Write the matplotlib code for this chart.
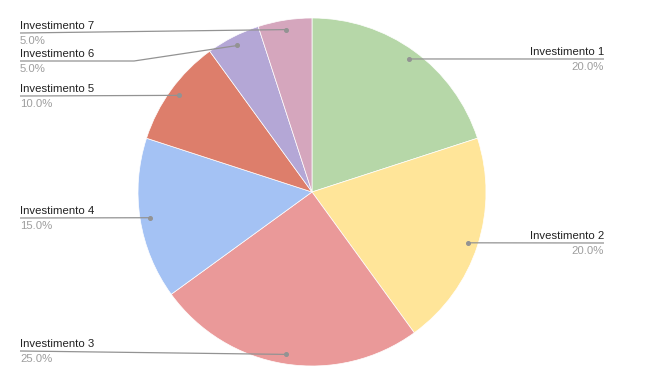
import numpy as np
import matplotlib.pyplot as plt

# Dados
labels = ['Investimento 1', 'Investimento 2', 'Investimento 3', 'Investimento 4',
          'Investimento 5', 'Investimento 6', 'Investimento 7']
values = [20, 20, 25, 15, 10, 5, 5]
colors = ['#b6d7a8', '#ffe599', '#ea9999', '#a4c2f4', '#dd7e6b', '#b4a7d6', '#d5a6bd']

# Layout (pixels, y para cima)
W, H = 666, 391
cx, cy, R = 312, H - 192, 174
label_line_y = [H - 59, H - 243, H - 351, H - 218, H - 96, H - 61, H - 33]
elbow_x = [None, None, None, None, None, 134, None]

plt.rcParams['font.family'] = ['Liberation Sans', 'DejaVu Sans']
fig = plt.figure(figsize=(W / 100, H / 100), dpi=100)
ax = fig.add_axes([0, 0, 1, 1])

ax.pie(values, colors=colors, startangle=90, counterclock=False,
       center=(cx, cy), radius=R, wedgeprops=dict(linewidth=0.5, edgecolor='white'))

# pie() mexe nos limites, então ajusta depois
ax.set_xlim(0, W)
ax.set_ylim(0, H)
ax.set_aspect('equal')
ax.axis('off')

total = sum(values)
ang = 90.0
for i, v in enumerate(values):
    mid = np.radians(ang - v / total * 180)
    ang -= v / total * 360
    dx = cx + 0.945 * R * np.cos(mid)
    dy = cy + 0.945 * R * np.sin(mid)
    ly = label_line_y[i]
    right = np.cos(mid) > 0
    if right:
        xs, ys = [dx, 604], [dy, ly]
        tx, ha = 604, 'right'
    else:
        if elbow_x[i] is not None:
            xs, ys = [dx, elbow_x[i], 20], [dy, ly, ly]
        else:
            xs, ys = [dx, 20], [dy, ly]
        tx, ha = 20, 'left'
    ax.plot(xs, ys, color='#939393', linewidth=0.9, solid_capstyle='butt')
    ax.plot(dx, dy, 'o', color='#939393', markersize=2.6)
    ax.text(tx, ly + 2, labels[i], ha=ha, va='bottom', fontsize=8.2, color='#222222')
    ax.text(tx, ly - 3, f'{v / total * 100:.1f}%', ha=ha, va='top', fontsize=8.2, color='#9e9e9e')

fig.savefig('out.png', dpi=100)
